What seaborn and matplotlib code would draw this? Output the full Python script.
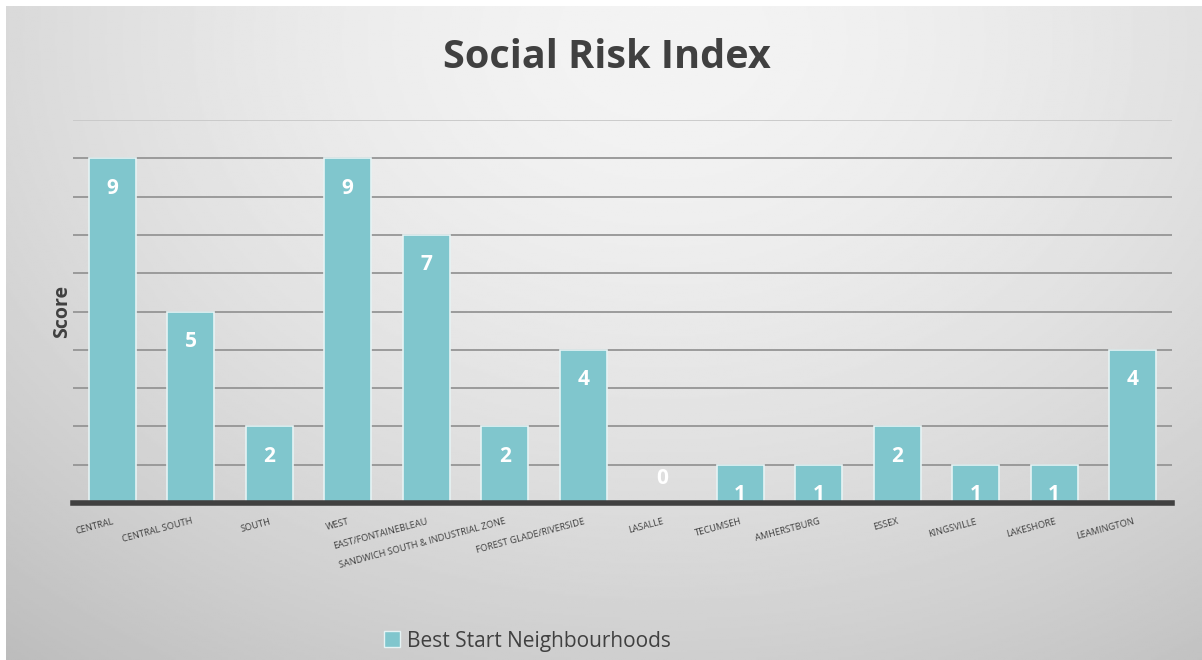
import numpy as np
import pandas as pd
import matplotlib
matplotlib.use("Agg")
import matplotlib.pyplot as plt
import seaborn as sns
from matplotlib.patches import Patch

categories = ["CENTRAL", "CENTRAL SOUTH", "SOUTH", "WEST", "EAST/FONTAINEBLEAU",
              "SANDWICH SOUTH & INDUSTRIAL ZONE", "FOREST GLADE/RIVERSIDE", "LASALLE",
              "TECUMSEH", "AMHERSTBURG", "ESSEX", "KINGSVILLE", "LAKESHORE", "LEAMINGTON"]
scores = [9, 5, 2, 9, 7, 2, 4, 0, 1, 1, 2, 1, 1, 4]
series_name = "Best Start Neighbourhoods"
title = "Social Risk Index"
y_label = "Score"

df = pd.DataFrame({"Neighbourhood": categories, "Score": scores})

sns.set_theme(style="white")
plt.rcParams['font.family'] = ['Open Sans', 'DejaVu Sans']

BAR = "#80c6cd"
W, H = 1202, 660
fig = plt.figure(figsize=(W / 100, H / 100), dpi=100)
fig.patch.set_facecolor("white")

# gradient background
bg = fig.add_axes([6 / W, 0, 1 - 6 / W, 1 - 6 / H])
yy, xx = np.mgrid[0:1:300j, 0:1:600j]
d = np.sqrt(((xx - 0.55) / 0.75) ** 2 + ((yy - 0.05) / 1.05) ** 2)
img = 0.955 - 0.17 * np.clip(d, 0, 1.3) ** 1.6
bg.imshow(img, cmap="gray", vmin=0, vmax=1, aspect="auto", extent=[0, 1, 1, 0])
bg.set_axis_off()

ax = fig.add_axes([73 / W, 157 / H, 1099 / W, 383 / H])
ax.patch.set_alpha(0)
sns.barplot(data=df, x="Neighbourhood", y="Score", color=BAR, width=0.6,
            saturation=1, edgecolor="#e6f3f4", linewidth=1.2, ax=ax, zorder=3)
ax.set_ylim(0, 10)
ax.set_xlim(-0.5, len(categories) - 0.5)
ax.set_yticks(range(1, 11))
ax.set_yticklabels([])
ax.tick_params(axis="y", length=0)
for yv in range(1, 11):
    ax.axhline(yv, color="#959595" if yv < 10 else "#c8c8c8", lw=1.3, zorder=1)
for s in ["top", "right", "left"]:
    ax.spines[s].set_visible(False)
ax.spines["bottom"].set_color("#404040")
ax.spines["bottom"].set_linewidth(4)
ax.spines["bottom"].set_zorder(5)

ax.set_xlabel("")
ax.set_xticks(range(len(categories)))
ax.set_xticklabels(categories, rotation=15, ha="right", rotation_mode="anchor",
                   fontsize=6.7, color="#404040")
ax.tick_params(axis="x", length=0, pad=10)

ax.set_ylabel(y_label, fontsize=14, fontweight="bold", color="#404040", labelpad=-3)

for i, v in enumerate(scores):
    if v > 0:
        ax.annotate(str(v), (i, v), xytext=(0, -14), textcoords="offset points",
                    ha="center", va="top", fontsize=15, fontweight="bold",
                    color="white", zorder=6)
    else:
        ax.annotate(str(v), (i, v), xytext=(0, 10), textcoords="offset points",
                    ha="center", va="bottom", fontsize=15, fontweight="bold",
                    color="white", zorder=6)

fig.text(607 / W, 1 - 58 / H, title, ha="center", va="center", fontsize=28.5,
         fontweight="bold", color="#404040")

handle = Patch(facecolor=BAR, edgecolor="#e6f3f4", linewidth=1)
fig.legend([handle], [series_name], loc="center", bbox_to_anchor=(527 / W, 1 - 641 / H),
           frameon=False, fontsize=15, handlelength=0.8, handleheight=0.8,
           handletextpad=0.3, labelcolor="#404040")

fig.savefig("out.png", dpi=100)
